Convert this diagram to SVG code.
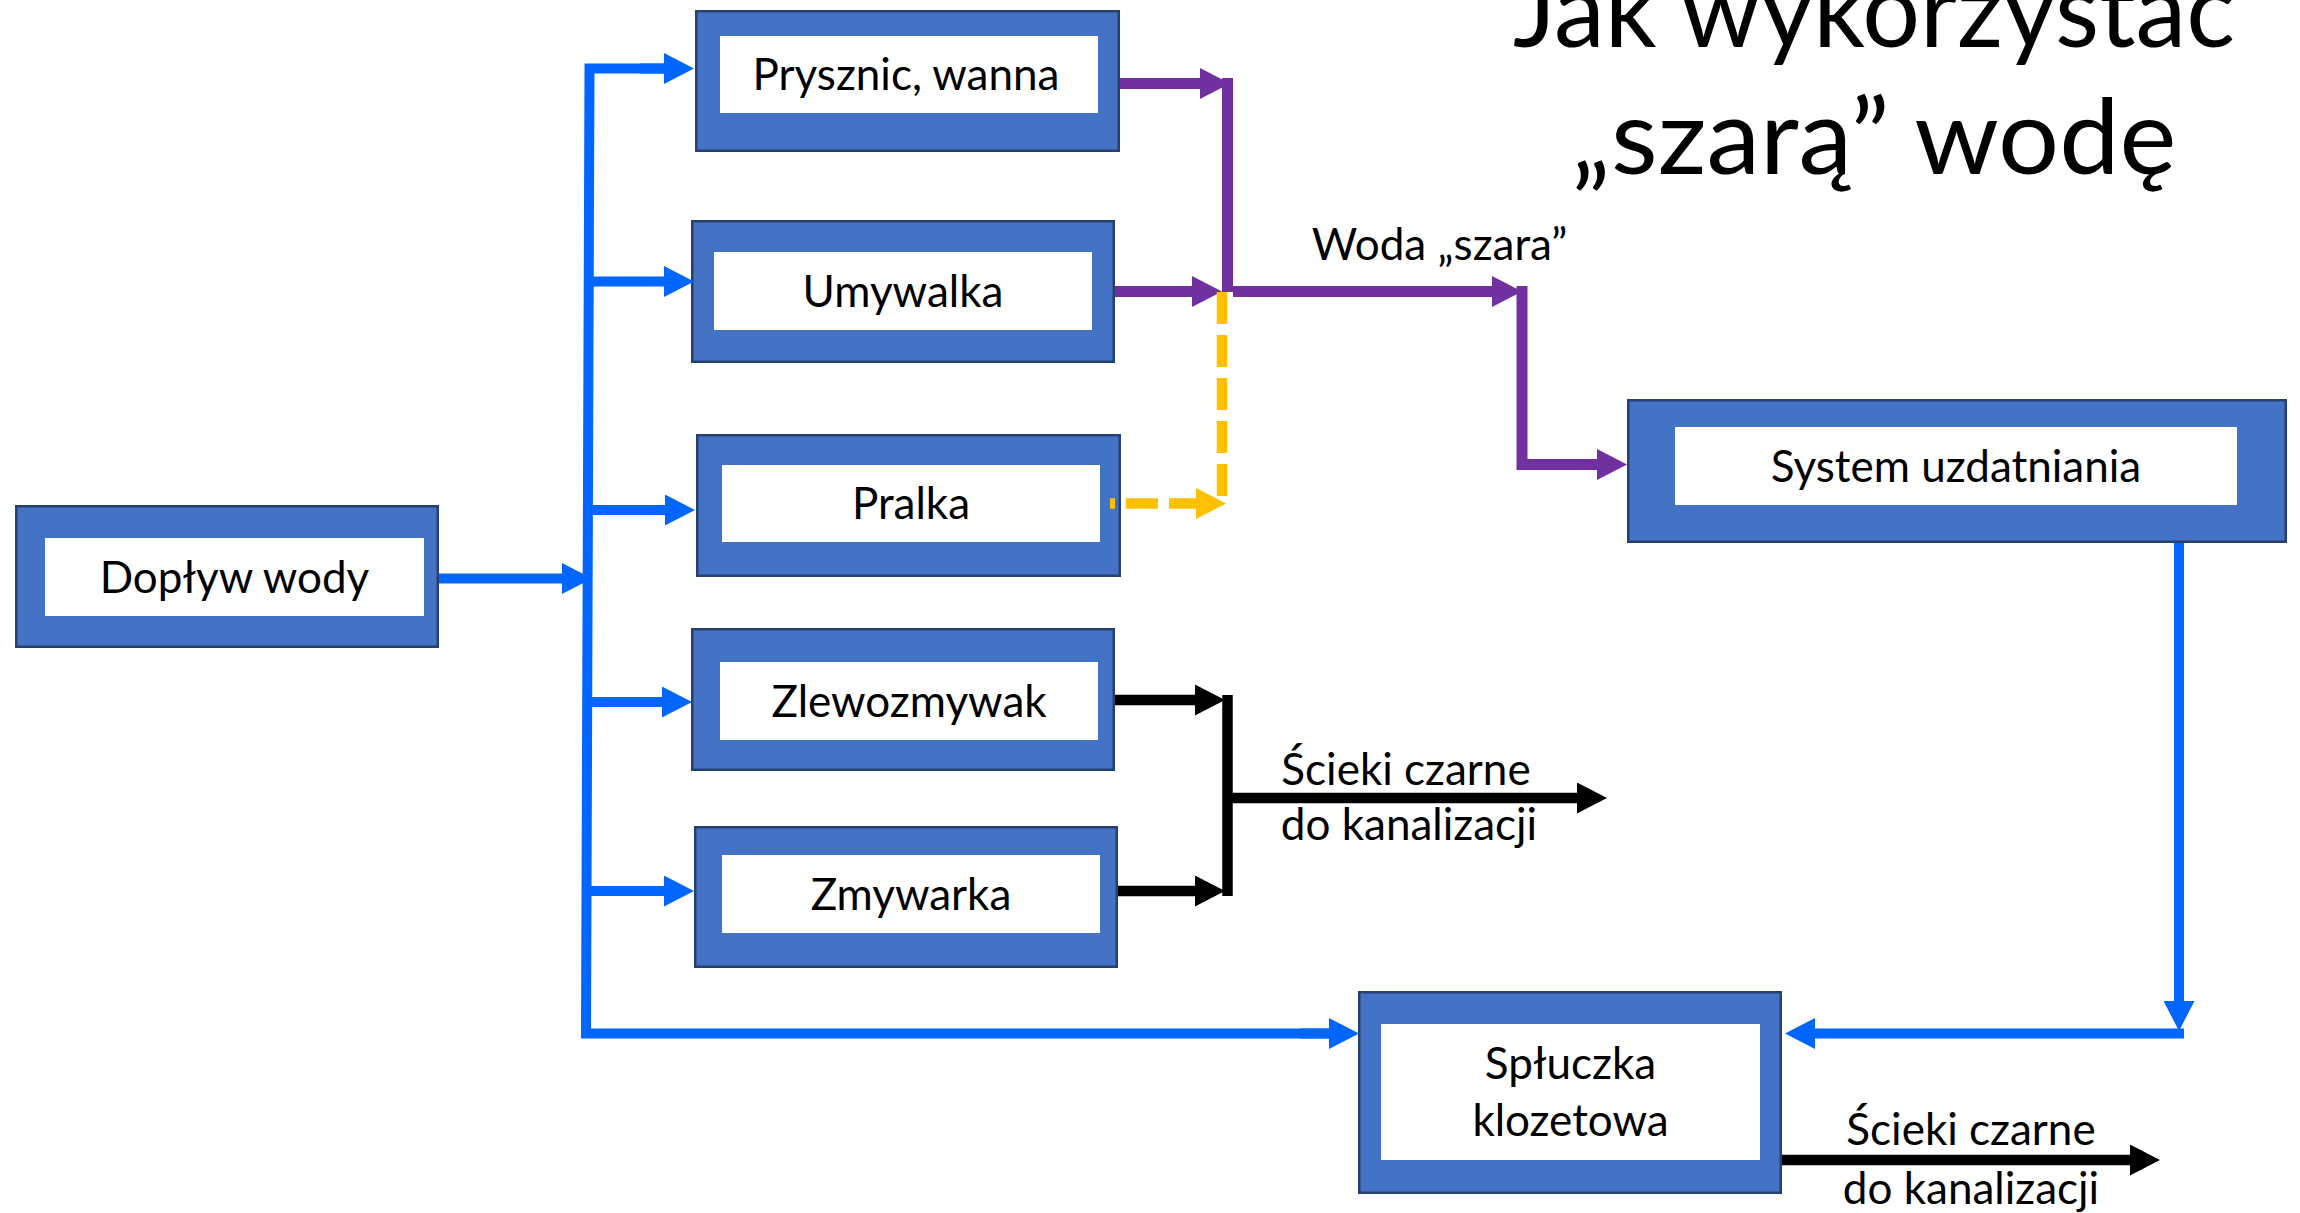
<svg xmlns="http://www.w3.org/2000/svg" width="2300" height="1213" viewBox="0 0 2300 1213">
<style>
  .outer { fill: #4472C4; stroke: #26416F; stroke-width: 2.5; }
  .inner { fill: #FFFFFF; }
  .lbl { font-family: Lato, "Open Sans", "Liberation Sans", sans-serif; font-size: 44px; fill: #000; text-anchor: middle; }
  .title { font-family: Lato, "Open Sans", "Liberation Sans", sans-serif; font-size: 105px; fill: #000; text-anchor: middle; }
  .c { fill: none; stroke-linejoin: miter; stroke-linecap: butt; }
  .blue { stroke: #0066FF; stroke-width: 10; }
  .purple { stroke: #7030A0; stroke-width: 11; }
  .yellow { stroke: #FFC000; stroke-width: 10.5; stroke-dasharray: 32 11; }
  .black { stroke: #000000; stroke-width: 10.5; }
</style>
<defs>
  <marker id="ab" viewBox="0 0 30 31" refX="1" refY="15.5" markerUnits="userSpaceOnUse" markerWidth="30" markerHeight="31" orient="auto"><path d="M0,0 L30,15.5 L0,31 z" fill="#0066FF"/></marker>
  <marker id="ap" viewBox="0 0 30 31" refX="1" refY="15.5" markerUnits="userSpaceOnUse" markerWidth="30" markerHeight="31" orient="auto"><path d="M0,0 L30,15.5 L0,31 z" fill="#7030A0"/></marker>
  <marker id="ay" viewBox="0 0 30 31" refX="1" refY="15.5" markerUnits="userSpaceOnUse" markerWidth="30" markerHeight="31" orient="auto"><path d="M0,0 L30,15.5 L0,31 z" fill="#FFC000"/></marker>
  <marker id="ak" viewBox="0 0 30 31" refX="1" refY="15.5" markerUnits="userSpaceOnUse" markerWidth="30" markerHeight="31" orient="auto"><path d="M0,0 L30,15.5 L0,31 z" fill="#000000"/></marker>
</defs>
<rect width="2300" height="1213" fill="#FFFFFF"/>

<g id="title">
  <text class="title" x="1874" y="47" textLength="722" lengthAdjust="spacingAndGlyphs">Jak wykorzystać</text>
  <text class="title" x="1874" y="174" textLength="605" lengthAdjust="spacingAndGlyphs">„szarą” wodę</text>
</g>

<g id="node-prysznic">
  <rect class="outer" x="696.25" y="11.25" width="422.5" height="139.5"/>
  <rect class="inner" x="720" y="36" width="378" height="77"/>
  <text class="lbl" x="906" y="90">Prysznic, wanna</text>
</g>
<g id="node-umywalka">
  <rect class="outer" x="692.25" y="221.25" width="421.5" height="140.5"/>
  <rect class="inner" x="714" y="252" width="378" height="78"/>
  <text class="lbl" x="903" y="306.5">Umywalka</text>
</g>
<g id="node-pralka">
  <rect class="outer" x="697.25" y="435.25" width="422.5" height="140.5"/>
  <rect class="inner" x="722" y="465" width="378" height="77"/>
  <text class="lbl" x="911" y="519">Pralka</text>
</g>
<g id="node-doplyw">
  <rect class="outer" x="16.25" y="506.25" width="421.5" height="140.5"/>
  <rect class="inner" x="45" y="538" width="379" height="78"/>
  <text class="lbl" x="234.5" y="592.5">Dopływ wody</text>
</g>
<g id="node-zlewozmywak">
  <rect class="outer" x="692.25" y="629.25" width="421.5" height="140.5"/>
  <rect class="inner" x="720" y="662" width="378" height="78"/>
  <text class="lbl" x="909" y="716.5">Zlewozmywak</text>
</g>
<g id="node-zmywarka">
  <rect class="outer" x="695.25" y="827.25" width="421.5" height="139.5"/>
  <rect class="inner" x="722" y="855" width="378" height="78"/>
  <text class="lbl" x="911" y="909.5">Zmywarka</text>
</g>
<g id="node-system">
  <rect class="outer" x="1628.25" y="400.25" width="657.5" height="141.5"/>
  <rect class="inner" x="1675" y="427" width="562" height="78"/>
  <text class="lbl" x="1956" y="481.5">System uzdatniania</text>
</g>
<g id="node-spluczka">
  <rect class="outer" x="1359.25" y="992.25" width="421.5" height="200.5"/>
  <rect class="inner" x="1381" y="1024" width="379" height="136"/>
  <text class="lbl" x="1570.5" y="1079">Spłuczka</text>
  <text class="lbl" x="1570.5" y="1136">klozetowa</text>
</g>

<g id="connectors">
  <!-- blue supply -->
  <path class="c blue" d="M 665,68.5 H 589.5 L 586,1033.5 H 1330"/>
  <path class="c blue" d="M 640,68.5 H 665" marker-end="url(#ab)"/>
  <path class="c blue" d="M 589,281.5 H 665" marker-end="url(#ab)"/>
  <path class="c blue" d="M 588,510 H 666" marker-end="url(#ab)"/>
  <path class="c blue" d="M 439,578.5 H 563" marker-end="url(#ab)"/>
  <path class="c blue" d="M 587,702 H 663" marker-end="url(#ab)"/>
  <path class="c blue" d="M 587,891 H 665" marker-end="url(#ab)"/>
  <path class="c blue" d="M 1300,1033.5 H 1330" marker-end="url(#ab)"/>
  <path class="c blue" d="M 2179,543 V 1002" marker-end="url(#ab)"/>
  <path class="c blue" d="M 2184,1033.5 H 1814" marker-end="url(#ab)"/>
  <!-- purple grey water -->
  <path class="c purple" d="M 1120,83.5 H 1201" marker-end="url(#ap)"/>
  <path class="c purple" d="M 1227.5,78 V 292"/>
  <path class="c purple" d="M 1115,291.5 H 1193" marker-end="url(#ap)"/>
  <path class="c purple" d="M 1233,291.5 H 1493" marker-end="url(#ap)"/>
  <path class="c purple" d="M 1522,286 V 464.5 H 1598" marker-end="url(#ap)"/>
  <!-- yellow dashed -->
  <path class="c yellow" d="M 1110,503.5 H 1197" stroke-dashoffset="27" marker-end="url(#ay)"/>
  <path class="c yellow" d="M 1222,292 V 497"/>
  <!-- black sewage -->
  <path class="c black" d="M 1115,700 H 1196" marker-end="url(#ak)"/>
  <path class="c black" d="M 1118,891 H 1196" marker-end="url(#ak)"/>
  <path class="c black" d="M 1227.5,695 V 896"/>
  <path class="c black" d="M 1227.5,798 H 1578" marker-end="url(#ak)"/>
  <path class="c black" d="M 1782,1160 H 2131" marker-end="url(#ak)"/>
</g>

<g id="labels">
  <text class="lbl" x="1439.5" y="260">Woda „szara”</text>
  <text class="lbl" x="1406" y="785">Ścieki czarne</text>
  <text class="lbl" x="1409" y="840">do kanalizacji</text>
  <text class="lbl" x="1971" y="1145">Ścieki czarne</text>
  <text class="lbl" x="1971" y="1204">do kanalizacji</text>
</g>
</svg>
